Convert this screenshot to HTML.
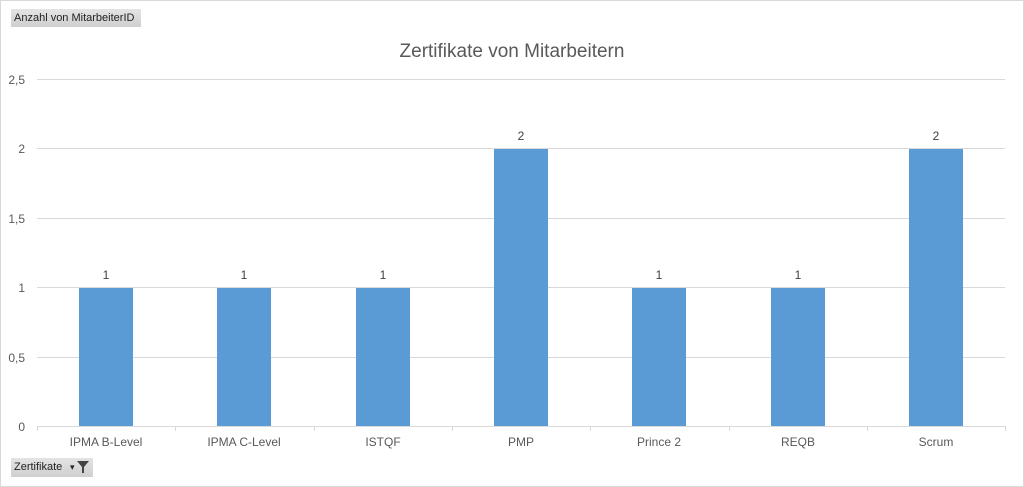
<!DOCTYPE html><html><head><style>
body{margin:0;width:1024px;height:487px;background:#fff;overflow:hidden;font-family:"Liberation Sans",sans-serif;}
.frame{position:absolute;left:0;top:0;width:1022px;height:485px;border:1px solid #d9d9d9;}
.btn{position:absolute;background:linear-gradient(#e4e4e4,#cfcfcf);font-size:11px;color:#222;line-height:18px;padding-left:3px;box-sizing:border-box;}
</style></head><body>
<div class="frame"></div>
<div class="btn" style="left:11px;top:9px;width:130px;height:18px;">Anzahl von MitarbeiterID</div>
<div class="btn" style="left:11px;top:458px;width:82px;height:19px;">Zertifikate <span style="position:absolute;left:59px;top:0;font-size:9px">▾</span><svg style="position:absolute;left:66px;top:3px" width="12" height="12"><path d="M0 0H12L7 6V12H5V6Z" fill="#444"/></svg></div>
<svg width="1024" height="487" style="position:absolute;left:0;top:0">
<text x="512" y="57" text-anchor="middle" font-size="19" fill="#595959" font-family="Liberation Sans">Zertifikate von Mitarbeitern</text>
<g stroke="#d9d9d9" stroke-width="1">
<line x1="37" x2="1005" y1="79.5" y2="79.5"/><line x1="37" x2="1005" y1="148.5" y2="148.5"/><line x1="37" x2="1005" y1="218.5" y2="218.5"/><line x1="37" x2="1005" y1="287.5" y2="287.5"/><line x1="37" x2="1005" y1="357.5" y2="357.5"/><line x1="37" x2="1005" y1="426.5" y2="426.5"/>
<line x1="37.5" x2="37.5" y1="426" y2="431"/><line x1="175.5" x2="175.5" y1="426" y2="431"/><line x1="314.5" x2="314.5" y1="426" y2="431"/><line x1="452.5" x2="452.5" y1="426" y2="431"/><line x1="590.5" x2="590.5" y1="426" y2="431"/><line x1="729.5" x2="729.5" y1="426" y2="431"/><line x1="867.5" x2="867.5" y1="426" y2="431"/><line x1="1005.5" x2="1005.5" y1="426" y2="431"/>
</g>
<g font-size="12" fill="#595959" text-anchor="end" font-family="Liberation Sans">
<text x="25" y="84">2,5</text><text x="25" y="153">2</text><text x="25" y="223">1,5</text><text x="25" y="292">1</text><text x="25" y="362">0,5</text><text x="25" y="431">0</text>
</g>
<g fill="#5b9bd5">
<rect x="79" y="288" width="54" height="138"/><rect x="217" y="288" width="54" height="138"/><rect x="356" y="288" width="54" height="138"/><rect x="494" y="149" width="54" height="277"/><rect x="632" y="288" width="54" height="138"/><rect x="771" y="288" width="54" height="138"/><rect x="909" y="149" width="54" height="277"/>
</g>
<g font-size="12" fill="#404040" text-anchor="middle" font-family="Liberation Sans">
<text x="106" y="279">1</text><text x="244" y="279">1</text><text x="383" y="279">1</text><text x="521" y="140">2</text><text x="659" y="279">1</text><text x="798" y="279">1</text><text x="936" y="140">2</text>
</g>
<g font-size="12" fill="#595959" text-anchor="middle" font-family="Liberation Sans">
<text x="106" y="446">IPMA B-Level</text><text x="244" y="446">IPMA C-Level</text><text x="383" y="446">ISTQF</text><text x="521" y="446">PMP</text><text x="659" y="446">Prince 2</text><text x="798" y="446">REQB</text><text x="936" y="446">Scrum</text>
</g>
</svg>
</body></html>
